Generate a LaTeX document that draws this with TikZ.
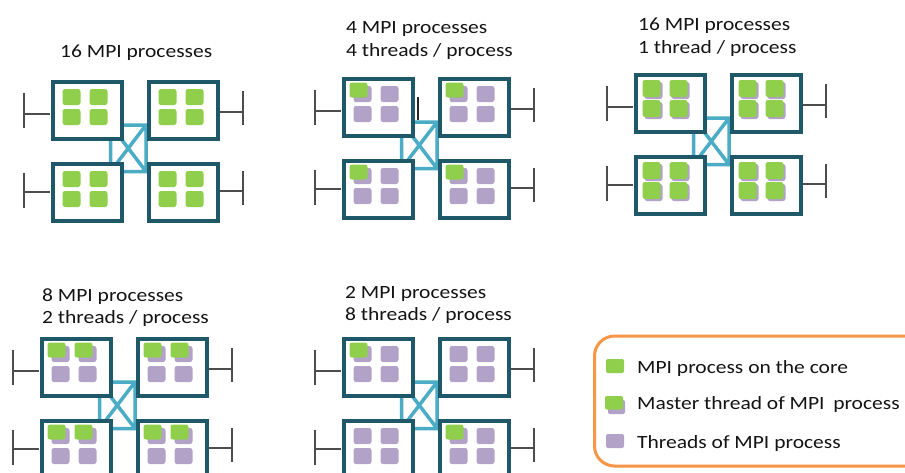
\documentclass[tikz,border=0pt]{standalone}
\usepackage{fontspec}
\setmainfont[FakeStretch=1.15]{Carlito}

\definecolor{coregreen}{HTML}{8FCF4C}
\definecolor{thrpurple}{HTML}{B3A2C7}
\definecolor{boxteal}{HTML}{1F5868}
\definecolor{linkblue}{HTML}{4BACC6}
\definecolor{wgray}{HTML}{4D4D4D}
\definecolor{legorange}{HTML}{F79646}
\definecolor{txt}{HTML}{141414}

\tikzset{
  cpu/.style={draw=boxteal, line width=4.2pt, fill=white, rectangle, inner sep=0pt,
              minimum width=69pt, minimum height=57pt, anchor=north west},
  link/.style={draw=linkblue, line width=3.5pt},
  whisker/.style={draw=wgray, line width=2pt},
  mpicore/.style={fill=coregreen, rounded corners=2.5pt},
  thrcore/.style={fill=thrpurple, rounded corners=2.5pt},
  title/.style={anchor=base west, inner sep=0pt, text=txt,
                font=\fontsize{18.7}{23}\selectfont},
  legbox/.style={draw=legorange, line width=3pt, rounded corners=20pt},
}

% one core slot at (#1,#2); #3: g = MPI process, t = thread,
% m = master thread over a thread, s = single-thread process
\newcommand\corecell[3]{%
  \if#3g\fill[mpicore] (#1,#2) rectangle ++(18,16);\fi
  \if#3t\fill[thrcore] (#1,#2) rectangle ++(18,16);\fi
  \if#3m\fill[thrcore] (#1,#2) rectangle ++(18,16);
        \fill[mpicore] (#1-4,#2-3.5) rectangle ++(18,15);\fi
  \if#3s\fill[thrcore] (#1-1,#2) rectangle ++(18,17);
        \fill[mpicore] (#1-3,#2-2) rectangle ++(18,17);\fi
}

% a socket box: name, top-left corner, four core kinds
\newcommand\cpubox[7]{%
  \node[cpu] (#1) at (#2+2,#3+2) {};
  \corecell{#2+13.5}{#3+11}{#4}
  \corecell{#2+40.5}{#3+11}{#5}
  \corecell{#2+13.5}{#3+31}{#6}
  \corecell{#2+40.5}{#3+31}{#7}
}

% a four-socket node: name, top-left corner, core kinds per socket
\newcommand\cluster[7]{%
  \begin{scope}[shift={(#2,#3)}]
    % interconnect
    \draw[link] (61.5,47) rectangle (97,93.5)
                (61.5,47) -- (97,93.5) (61.5,93.5) -- (97,47);
    % network links
    \draw[whisker] (1,35.5) -- (-25,35.5) (-25,15) -- (-25,50);
    \draw[whisker] (1,114) -- (-25,114) (-25,95) -- (-25,130);
    \draw[whisker] (168,34) -- (194,34) (194,13) -- (194,47);
    \draw[whisker] (168,113) -- (194,113) (194,93) -- (194,127);
    \cpubox{#1-tl}{0}{0}#4
    \cpubox{#1-tr}{96}{0}#5
    \cpubox{#1-bl}{0}{82}#6
    \cpubox{#1-br}{96}{82}#7
  \end{scope}}

\begin{document}
\begin{tikzpicture}[x=1pt,y=-1pt]
  \useasboundingbox (0,0) rectangle (905,472);
  \clip (0,0) rectangle (905,472);
  \fill[white] (0,0) rectangle (905,472);

  \cluster{da}{49}{78}{gggg}{gggg}{gggg}{gggg}
  \cluster{db}{340}{75}{mttt}{mttt}{mttt}{mttt}
  \cluster{dc}{632}{71}{ssss}{ssss}{ssss}{ssss}
  \cluster{dd}{38}{335}{mmtt}{mmtt}{mmtt}{mmtt}
  \cluster{de}{340}{335}{mttt}{tttt}{tttt}{mttt}

  \draw[line width=2pt, black!85] (418,97) -- (418,120);

  \node[title] (ta)  at (60,57)     {16 MPI processes};
  \node[title] (tb1) at (346,33)    {4 MPI processes};
  \node[title] (tb2) at (346,56)    {4 threads / process};
  \node[title] (tc1) at (638,30)    {16 MPI processes};
  \node[title] (tc2) at (638,53)    {1 thread / process};
  \node[title] (td1) at (42,301)    {8 MPI processes};
  \node[title] (td2) at (42,323.5)  {2 threads / process};
  \node[title] (te1) at (345,298.5) {2 MPI processes};
  \node[title] (te2) at (345,320.5) {8 threads / process};

  % legend
  \draw[legbox] (594.5,336) rectangle (930,466);
  \fill[coregreen, rounded corners=2pt] (606,359) rectangle ++(18,14);
  \fill[thrpurple, rounded corners=2pt] (608,400) rectangle ++(17,14);
  \fill[coregreen, rounded corners=2pt] (605,396) rectangle ++(18,13.5);
  \fill[thrpurple, rounded corners=2pt] (606,434) rectangle ++(18,14);
  \node[title] (l1) at (637,373.3) {MPI process on the core};
  \node[title] (l2) at (637,409.3) {Master thread of MPI\hspace{0.2em} process};
  \node[title] (l3) at (637,448.3) {Threads of MPI process};
\end{tikzpicture}
\end{document}
